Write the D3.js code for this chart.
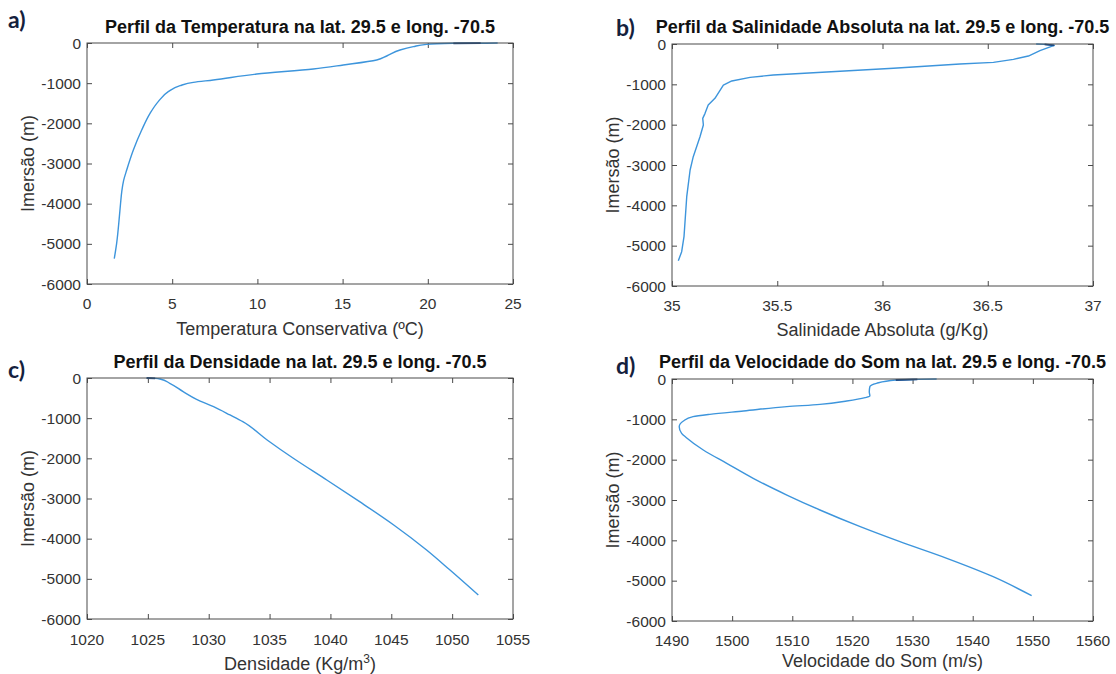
<!DOCTYPE html>
<html>
<head>
<meta charset="utf-8">
<script src="https://cdn.jsdelivr.net/npm/d3@7"></script>
<style>
  body { margin: 0; background: #ffffff; }
  svg text { font-family: "Liberation Sans", Arial, Helvetica, sans-serif; }
</style>
</head>
<body>
<svg id="chart" width="1116" height="674"></svg>
<script>
// Shared depth axis (m)
const depthTicks = [0, -1000, -2000, -3000, -4000, -5000, -6000];

// a) Conservative temperature profile
const tempTicks = [0, 5, 10, 15, 20, 25];
const tempDepth = [0, -5, -8, -33, -91, -174, -324, -423, -548, -647, -772, -921, -980, -1062, -1212, -1460, -1751, -2166, -2664, -3162, -3420, -3700, -3990, -4324, -4987, -5370];
const tempValue = [24.1, 23.1, 21.5, 19.93, 19.15, 18.37, 17.59, 17.0, 15.04, 13.28, 9.96, 7.41, 6.24, 5.46, 4.77, 4.18, 3.70, 3.21, 2.72, 2.33, 2.15, 2.04, 1.97, 1.90, 1.74, 1.60];
const tempSurface = [-5, -8];       // depth range drawn darker (overlapping surface samples)

// b) Absolute salinity profile
const salTicks = [35, 35.5, 36, 36.5, 37];
const salDepth = [0, -10, -33, -165, -298, -380, -455, -496, -603, -694, -769, -827, -917, -1017, -1347, -1513, -1719, -1843, -2009, -2298, -2794, -3124, -3786, -4778, -5150, -5373];
const salValue = [36.73, 36.77, 36.816, 36.748, 36.693, 36.622, 36.527, 36.368, 36.052, 35.735, 35.481, 35.371, 35.284, 35.244, 35.204, 35.172, 35.157, 35.146, 35.149, 35.133, 35.101, 35.086, 35.070, 35.057, 35.046, 35.030];
const salSurface = [-10, -33];

// c) Density profile
const densTicks = [1020, 1025, 1030, 1035, 1040, 1045, 1050, 1055];
const densDepth = [0, -10, -25, -132, -340, -530, -714, -921, -1088, -1543, -1999, -2539, -3079, -3659, -4282, -4775, -5403];
const densValue = [1024.9, 1025.6, 1026.0, 1026.8, 1027.9, 1029.0, 1030.4, 1031.75, 1032.8, 1034.8, 1036.95, 1039.7, 1042.4, 1045.2, 1047.9, 1049.8, 1052.15];
const densSurface = [0, -10];

// d) Sound speed profile
const soundTicks = [1490, 1500, 1510, 1520, 1530, 1540, 1550, 1560];
const soundDepth = [0, -10, -25, -107, -190, -315, -422, -463, -546, -628, -686, -793, -876, -934, -1041, -1182, -1347, -1455, -1760, -2091, -2463, -2877, -3248, -3662, -4034, -4447, -4902, -5373];
const soundValue = [1534.0, 1530.8, 1527.2, 1524.0, 1522.9, 1522.8, 1522.9, 1522.1, 1519.05, 1514.6, 1509.1, 1501.9, 1496.3, 1493.5, 1491.9, 1491.2, 1491.6, 1492.4, 1495.2, 1499.1, 1503.5, 1509.1, 1514.6, 1521.3, 1527.9, 1535.7, 1543.4, 1549.8];
const soundSurface = [-10, -25];

const panels = [
  { letter: "a)", title: "Perfil da Temperatura na lat. 29.5 e long. -70.5",
    xlabel: "Temperatura Conservativa (ºC)", xdomain: [0, 25], xticks: tempTicks,
    values: tempValue, depth: tempDepth, surface: tempSurface, smooth: true,
    box: { x0: 87, x1: 513, y0: 43, y1: 284 }, titleGap: 10, tickBase: 309, labelBase: 335, ylabX: 34,
    letterPos: [8, 28] },
  { letter: "b)", title: "Perfil da Salinidade Absoluta na lat. 29.5 e long. -70.5",
    xlabel: "Salinidade Absoluta (g/Kg)", xdomain: [35, 37], xticks: salTicks,
    values: salValue, depth: salDepth, surface: salSurface, smooth: false,
    box: { x0: 672, x1: 1093, y0: 44, y1: 286 }, titleGap: 11, tickBase: 311, labelBase: 336, ylabX: 619,
    letterPos: [616, 36] },
  { letter: "c)", title: "Perfil da Densidade na lat. 29.5 e long. -70.5",
    xlabel: "Densidade (Kg/m", xsup: "3", xlabelEnd: ")", xdomain: [1020, 1055], xticks: densTicks,
    values: densValue, depth: densDepth, surface: densSurface, smooth: true,
    box: { x0: 87, x1: 513, y0: 378, y1: 619 }, titleGap: 10, tickBase: 645, labelBase: 670, ylabX: 34,
    letterPos: [8, 378] },
  { letter: "d)", title: "Perfil da Velocidade do Som na lat. 29.5 e long. -70.5",
    xlabel: "Velocidade do Som (m/s)", xdomain: [1490, 1560], xticks: soundTicks,
    values: soundValue, depth: soundDepth, surface: soundSurface, smooth: true,
    box: { x0: 672, x1: 1093, y0: 379, y1: 621 }, titleGap: 11, tickBase: 646, labelBase: 667, ylabX: 619,
    letterPos: [616, 374] }
];

const svg = d3.select("#chart");
const axisColor = "#4a4a4a";
const textColor = "#333333";
const lineColor = "#3d95dc";
const surfaceColor = "#1d4c88";
const tickLen = 5;
const numText = d => String(d);   // plain hyphen-minus, as MATLAB prints it

panels.forEach(p => {
  const b = p.box;
  const x = d3.scaleLinear().domain(p.xdomain).range([b.x0, b.x1]);
  const y = d3.scaleLinear().domain([0, -6000]).range([b.y0, b.y1]);
  const g = svg.append("g");

  // inward ticks on all four sides
  const axes = [
    [d3.axisBottom(x).tickValues(p.xticks).tickSize(-tickLen).tickFormat(""), `translate(0,${b.y1})`],
    [d3.axisTop(x).tickValues(p.xticks).tickSize(-tickLen).tickFormat(""), `translate(0,${b.y0})`],
    [d3.axisLeft(y).tickValues(depthTicks).tickSize(-tickLen).tickFormat(""), `translate(${b.x0},0)`],
    [d3.axisRight(y).tickValues(depthTicks).tickSize(-tickLen).tickFormat(""), `translate(${b.x1},0)`]
  ];
  axes.forEach(([ax, tr]) => {
    const a = g.append("g").attr("transform", tr).call(ax);
    a.select(".domain").remove();
    a.selectAll("line").attr("stroke", axisColor).attr("stroke-width", 1);
  });

  // profile curve
  const pts = p.depth.map((d, i) => ({ depth: d, value: p.values[i] }));
  const line = d3.line()
    .x(d => x(d.value))
    .y(d => y(d.depth))
    .curve(p.smooth ? d3.curveMonotoneY : d3.curveLinear);
  g.append("path")
    .datum(pts)
    .attr("d", line)
    .attr("fill", "none")
    .attr("stroke", lineColor)
    .attr("stroke-width", 1.4)
    .attr("stroke-linejoin", "round");

  // overlapping near-surface samples show up darker
  const surf = pts.filter(d => d.depth <= p.surface[0] && d.depth >= p.surface[1]);
  g.append("path")
    .datum(surf)
    .attr("d", d3.line().x(d => x(d.value)).y(d => y(d.depth)))
    .attr("fill", "none")
    .attr("stroke", surfaceColor)
    .attr("stroke-width", 1.8);

  // axes box
  g.append("rect")
    .attr("x", b.x0).attr("y", b.y0)
    .attr("width", b.x1 - b.x0).attr("height", b.y1 - b.y0)
    .attr("fill", "none").attr("stroke", axisColor).attr("stroke-width", 1);

  // tick labels
  g.selectAll(".xt").data(p.xticks).enter().append("text")
    .attr("x", d => x(d)).attr("y", p.tickBase)
    .attr("text-anchor", "middle").attr("font-size", 15.5).attr("fill", textColor)
    .text(numText);
  g.selectAll(".yt").data(depthTicks).enter().append("text")
    .attr("x", b.x0 - 6).attr("y", d => y(d)).attr("dy", "0.36em")
    .attr("text-anchor", "end").attr("font-size", 15.5).attr("fill", textColor)
    .text(numText);

  // x-axis label
  const xl = g.append("text")
    .attr("x", (b.x0 + b.x1) / 2).attr("y", p.labelBase)
    .attr("text-anchor", "middle").attr("font-size", 18).attr("fill", textColor)
    .text(p.xlabel);
  if (p.xsup) {
    xl.append("tspan").attr("dy", -7).attr("font-size", 12).text(p.xsup);
    xl.append("tspan").attr("dy", 7).text(p.xlabelEnd);
  }

  // y-axis label
  g.append("text")
    .attr("transform", `translate(${p.ylabX},${(b.y0 + b.y1) / 2}) rotate(-90)`)
    .attr("text-anchor", "middle").attr("font-size", 18).attr("fill", textColor)
    .text("Imersão (m)");

  // title
  g.append("text")
    .attr("x", (b.x0 + b.x1) / 2).attr("y", b.y0 - p.titleGap)
    .attr("text-anchor", "middle").attr("font-size", 18).attr("font-weight", "bold")
    .attr("fill", "#111111")
    .text(p.title);

  // panel letter
  g.append("text")
    .attr("x", p.letterPos[0]).attr("y", p.letterPos[1])
    .style("font-family", "Lato, 'Open Sans', sans-serif")
    .attr("font-size", 23).attr("font-weight", "bold").attr("fill", "#14213d")
    .text(p.letter);
});
</script>
</body>
</html>
